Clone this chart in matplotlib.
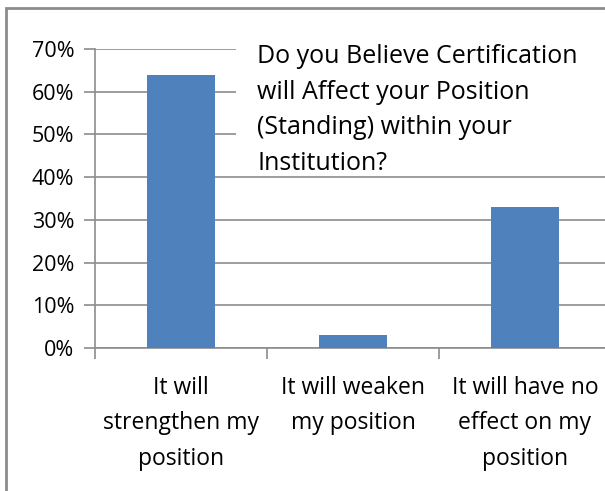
import matplotlib.pyplot as plt
from matplotlib.patches import Rectangle
from matplotlib.ticker import PercentFormatter, FixedLocator

categories = ["It will\nstrengthen my\nposition", "It will weaken\nmy position", "It will have no\neffect on my\nposition"]
values = [64, 3, 33]
title = "Do you Believe Certification\nwill Affect your Position\n(Standing) within your\nInstitution?"

plt.rcParams["font.family"] = ["Open Sans", "DejaVu Sans"]

fig = plt.figure(figsize=(6.05, 4.91), dpi=100)
ax = fig.add_axes([95 / 605, 143 / 491, 516 / 605, 299 / 491])

x = list(range(len(categories)))
ax.bar(x, values, width=0.4, color="#4F81BD", zorder=3)
ax.set_xlim(-0.5, 2.5)
ax.set_ylim(0, 70)
ax.set_yticks(range(0, 71, 10))
ax.yaxis.set_major_formatter(PercentFormatter(decimals=0))
ax.grid(axis="y", color="#8c8c8c", linewidth=1.2, zorder=0)

ax.set_xticks(x)
ax.set_xticklabels(categories, fontsize=16.5, linespacing=1.65)
ax.tick_params(axis="x", length=0, pad=20)
ax.xaxis.set_minor_locator(FixedLocator([-0.5, 0.5, 1.5, 2.5]))
ax.tick_params(axis="x", which="minor", length=8, color="#8c8c8c", width=1.2)
ax.tick_params(axis="y", length=8, color="#8c8c8c", width=1.2, labelsize=15.5, pad=7)

for s in ["top", "right"]:
    ax.spines[s].set_visible(False)
for s in ["left", "bottom"]:
    ax.spines[s].set_color("#8c8c8c")
    ax.spines[s].set_linewidth(1.2)

# white box behind the title hides the gridlines
fig.patches.append(Rectangle((236 / 605, 1 - 171 / 491), 0.7, 135 / 491, transform=fig.transFigure,
                             facecolor="white", edgecolor="none", zorder=2))
fig.text(257 / 605, 1 - 44 / 491, title, fontsize=18, va="top", ha="left", linespacing=1.56, zorder=3)

fig.patches.append(Rectangle((6 / 605, -0.02), 1.1, 1 - 8 / 491 + 0.02, transform=fig.transFigure,
                             fill=False, edgecolor="#8c8c8c", linewidth=2))

fig.savefig("out.png", dpi=100)
